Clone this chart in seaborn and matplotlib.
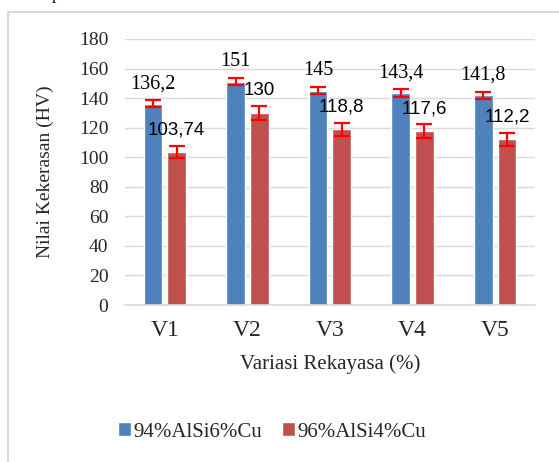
import matplotlib
matplotlib.use("Agg")
import matplotlib.pyplot as plt
import seaborn as sns
import pandas as pd
import numpy as np
from matplotlib.patches import Rectangle

categories = ["V1", "V2", "V3", "V4", "V5"]
series_names = ["94%AlSi6%Cu", "96%AlSi4%Cu"]
values_a = [136.2, 151, 145, 143.4, 141.8]
values_b = [103.74, 130, 118.8, 117.6, 112.2]
labels_a = ["136,2", "151", "145", "143,4", "141,8"]
labels_b = ["103,74", "130", "118,8", "117,6", "112,2"]
err_a = [2.4, 2.3, 2.3, 2.7, 2.5]
err_b = [4.0, 4.5, 4.5, 4.7, 4.5]
colors = ["#4F81BD", "#C0504D"]

df = pd.DataFrame({
    "Variasi": categories * 2,
    "Nilai": values_a + values_b,
    "Seri": [series_names[0]] * 5 + [series_names[1]] * 5,
})

sns.set_style("white")
plt.rcParams["font.family"] = ["Liberation Serif", "DejaVu Serif"]

fig = plt.figure(figsize=(5.59, 4.62), dpi=100)
ax = fig.add_axes([0.2236, 0.3398, 0.7334, 0.5758])

sns.barplot(data=df, x="Variasi", y="Nilai", hue="Seri", palette=colors,
            width=0.573, gap=0.21, errorbar=None, ax=ax, legend=True,
            saturation=1)

ax.set_ylim(0, 180)
ax.set_yticks(range(0, 181, 20))
ax.grid(axis="y", color="#d9d9d9", linewidth=1.0)
ax.set_axisbelow(True)
for s in ["top", "right", "left"]:
    ax.spines[s].set_visible(False)
ax.spines["bottom"].set_color("#d9d9d9")
ax.spines["bottom"].set_linewidth(1.2)
ax.tick_params(axis="y", length=0, pad=12, labelsize=14)
ax.tick_params(axis="x", length=0, pad=11, labelsize=17)
ax.set_xlabel("Variasi Rekayasa (%)", fontsize=15, labelpad=9)
ax.set_ylabel("Nilai Kekerasan (HV)", fontsize=14, labelpad=18)

# bars by series
bars = [p for p in ax.patches if p.get_height() > 0]
bars_a = sorted(bars[:5], key=lambda p: p.get_x())
bars_b = sorted(bars[5:10], key=lambda p: p.get_x())

for group, vals, errs, labs, fam, fs, off in [
    (bars_a, values_a, err_a, labels_a, "Liberation Serif", 14.5, 13.5),
    (bars_b, values_b, err_b, labels_b, "Liberation Sans", 13.5, 15),
]:
    xs = [p.get_x() + p.get_width() / 2 for p in group]
    ax.errorbar(xs, vals, yerr=errs, fmt="none", ecolor="#FF0000",
                elinewidth=1.6, capsize=6, capthick=1.6, zorder=5)
    for x, v, t in zip(xs, vals, labs):
        ax.text(x, v + off, t, ha="center", va="center", fontsize=fs,
                fontfamily=fam, color="black", zorder=6)

leg = ax.legend(loc="center", bbox_to_anchor=(272 / 559, 1 - 432 / 462),
                bbox_transform=fig.transFigure, ncol=2, frameon=False,
                fontsize=15, handlelength=0.65, handleheight=0.65,
                handletextpad=0.1, columnspacing=0.95)

# outer chart frame
fig.patches.append(Rectangle((8 / 559, -0.1), 1.2, 0.1 + 1 - 12 / 462,
                             transform=fig.transFigure, fill=False,
                             edgecolor="#d9d9d9", linewidth=1.5))
fig.text(20 / 559, 1 + 0.012, "sampai 500 N.", fontsize=14, va="center",
         ha="left")

fig.savefig("out.png", dpi=100)
